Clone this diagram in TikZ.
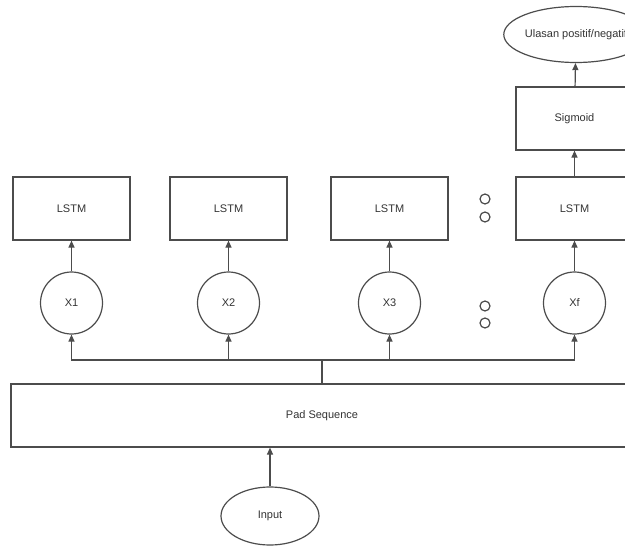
\documentclass[tikz,border=0pt]{standalone}
\usepackage{fontspec}
\setmainfont{Liberation Sans}
\usetikzlibrary{shapes.geometric,arrows.meta}
\tikzset{
  blok/.style={draw=black!70,rectangle,minimum width=117pt,minimum height=63pt,inner sep=0pt},
  xin/.style={draw=black!70,circle,minimum size=62pt,inner sep=0pt},
  oval/.style={draw=black!70,ellipse,inner sep=0pt},
  titik/.style={draw=black!70,circle,minimum size=10pt,inner sep=0pt},
}
\begin{document}
\begin{tikzpicture}[>={Triangle[length=7pt,width=6pt]},x=1pt,y=-1pt,font=\fontsize{11}{13}\selectfont,line width=1.2pt,
  every node/.append style={text=black!80}]
\useasboundingbox (0,0) rectangle (625,546);
\clip (0,0) rectangle (625,546);
% lapisan LSTM
\node[blok] (l1) at (71.5,208.5) {LSTM};
\node[blok] (l2) at (228.5,208.5) {LSTM};
\node[blok] (l3) at (389.5,208.5) {LSTM};
\node[blok] (l4) at (574.5,208.5) {LSTM};
\node[blok] (sig) at (574.5,118.5) {Sigmoid};
\node[oval,minimum width=120pt,minimum height=56pt] (out) at (576,34.5) {Ulasan positif/negatif};
% input
\node[xin] (x1) at (71.5,303) {X1};
\node[xin] (x2) at (228.5,303) {X2};
\node[xin] (x3) at (389.5,303) {X3};
\node[xin] (xf) at (574.5,303) {Xf};
\node[titik] (d1) at (485,199) {};
\node[titik] (d2) at (485,217) {};
\node[titik] (d3) at (485,306) {};
\node[titik] (d4) at (485,323) {};
\node[blok,minimum width=622pt] (pad) at (322,415.5) {Pad Sequence};
\node[oval,minimum width=98pt,minimum height=58pt] (in) at (270,516) {Input};
% panah
\coordinate (bus) at (322,360);
\draw[black!70] (pad.north) -- (bus);
\foreach \n in {x1,x2,x3,xf}
  \draw[->,black!70] (bus) -| (\n);
\foreach \a/\b in {x1/l1,x2/l2,x3/l3,xf/l4}
  \draw[->,black!70] (\a) -- (\b);
\draw[->,black!70] (l4) -- (sig);
\draw[->,black!70] (sig) -- (out);
\draw[->,black!70] (in) -- (in |- pad.south);
\end{tikzpicture}
\end{document}
